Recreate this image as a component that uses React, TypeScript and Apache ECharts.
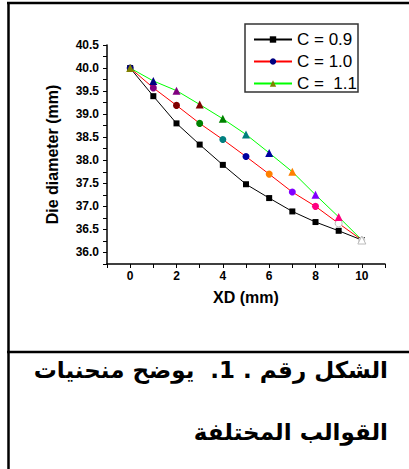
import React, { useEffect, useRef } from "react";
import * as echarts from "echarts";

const xd = [0, 1, 2, 3, 4, 5, 6, 7, 8, 9, 10];
const c09 = [40.0, 39.39, 38.8, 38.34, 37.9, 37.48, 37.18, 36.89, 36.66, 36.47, 36.27];
const c10 = [40.0, 39.57, 39.19, 38.8, 38.45, 38.08, 37.7, 37.31, 37.0, 36.63, 36.27];
const c11 = [40.0, 39.72, 39.51, 39.21, 38.9, 38.56, 38.16, 37.75, 37.25, 36.77, 36.27];
const seriesNames = ["C = 0.9", "C = 1.0", "C =  1.1"];
const c10PointColors = ["#000080", "#800080", "#800000", "#008000", "#008080", "#0000a0", "#ff8000", "#8000ff", "#ff0080", "#ffffff", "#d8d8d8"];
const c11PointColors = ["#808000", "#000080", "#800080", "#800000", "#008000", "#008080", "#0000a0", "#ff8000", "#8000ff", "#ff0080", "#ffffff"];
const yAxisTitle = "Die diameter (mm)";
const xAxisTitle = "XD (mm)";
const captionLine1 = "الشكل رقم . 1.  يوضح منحنيات";
const captionLine2 = "القوالب المختلفة";

const LATIN = "'Liberation Sans', Arial, sans-serif";
const ARABIC = "'DejaVu Sans', sans-serif";
const RLE = "\u202B";
const PDF = "\u202C";

function pts(vals: number[], colors?: string[]) {
  return xd.map((x, i) => {
    const c = colors ? colors[i] : "#000000";
    return {
      value: [x, vals[i]],
      itemStyle: {
        color: c,
        borderColor: c === "#ffffff" ? "#bbbbbb" : c,
        borderWidth: c === "#ffffff" ? 1 : 0,
      },
    };
  });
}

export default function App() {
  const ref = useRef<HTMLDivElement>(null);
  useEffect(() => {
    if (!ref.current) return;
    const chart = echarts.init(ref.current, undefined, { renderer: "svg" });
    const isHalf = (v: number) => Math.abs(v * 2 - Math.round(v * 2)) < 1e-6;
    chart.setOption({
      animation: false,
      backgroundColor: "#ffffff",
      grid: { left: 107, top: 45, width: 278, height: 219, containLabel: false },
      xAxis: {
        type: "value",
        min: -1,
        max: 11,
        interval: 1,
        name: xAxisTitle,
        nameLocation: "middle",
        nameGap: 25,
        nameTextStyle: { fontFamily: LATIN, fontWeight: "bold", fontSize: 16, color: "#000" },
        axisLine: { onZero: false, lineStyle: { color: "#000", width: 1.5 } },
        axisTick: { show: true, inside: false, length: 4, lineStyle: { color: "#000", width: 1 } },
        splitLine: { show: false },
        axisLabel: {
          interval: 0,
          margin: 6,
          fontFamily: LATIN,
          fontWeight: "bold",
          fontSize: 12,
          color: "#000",
          formatter: (v: number) => (v >= 0 && v <= 10 && Math.round(v) % 2 === 0 ? String(Math.round(v)) : ""),
        },
      },
      yAxis: {
        type: "value",
        min: 35.75,
        max: 40.5,
        interval: 0.25,
        name: yAxisTitle,
        nameLocation: "middle",
        nameGap: 47,
        nameRotate: 90,
        nameTextStyle: { fontFamily: LATIN, fontWeight: "bold", fontSize: 16, color: "#000" },
        axisLine: { show: true, onZero: false, lineStyle: { color: "#000", width: 1.5 } },
        axisTick: { show: true, inside: false, length: 4, lineStyle: { color: "#000", width: 1 } },
        splitLine: { show: false },
        axisLabel: {
          interval: 0,
          margin: 8,
          fontFamily: LATIN,
          fontWeight: "bold",
          fontSize: 12,
          color: "#000",
          formatter: (v: number) => (v >= 35.99 && isHalf(v) ? v.toFixed(1) : ""),
        },
      },
      legend: {
        orient: "vertical",
        left: 253,
        top: 31,
        padding: 0,
        itemWidth: 38,
        itemHeight: 8,
        itemGap: 5,
        textStyle: { fontFamily: LATIN, fontSize: 17, color: "#000" },
        data: seriesNames,
        z: 10,
      },
      series: [
        {
          name: seriesNames[0],
          type: "line",
          symbol: "rect",
          symbolSize: 6,
          lineStyle: { color: "#000000", width: 1 },
          itemStyle: { color: "#000000" },
          data: pts(c09),
        },
        {
          name: seriesNames[1],
          type: "line",
          symbol: "circle",
          symbolSize: 7,
          lineStyle: { color: "#ff0000", width: 1 },
          itemStyle: { color: "#000080" },
          data: pts(c10, c10PointColors),
        },
        {
          name: seriesNames[2],
          type: "line",
          symbol: "triangle",
          symbolSize: 8,
          lineStyle: { color: "#00ff00", width: 1 },
          itemStyle: { color: "#808000" },
          data: pts(c11, c11PointColors),
        },
      ],
      graphic: [
        { type: "line", shape: { x1: 8.5, y1: 2, x2: 8.5, y2: 469 }, style: { stroke: "#000", lineWidth: 2.5 } },
        { type: "line", shape: { x1: 7, y1: 3, x2: 409, y2: 3 }, style: { stroke: "#000", lineWidth: 2.5 } },
        { type: "line", shape: { x1: 7, y1: 352, x2: 409, y2: 352 }, style: { stroke: "#000", lineWidth: 2.5 } },
        {
          type: "rect",
          z: 5,
          shape: { x: 245, y: 24, width: 113, height: 68 },
          style: { fill: "#ffffff", stroke: "#333", lineWidth: 1.5 },
        },
        {
          type: "text",
          x: 388,
          y: 370,
          style: {
            text: RLE + captionLine1 + PDF,
            align: "right",
            verticalAlign: "middle",
            fontFamily: ARABIC,
            fontWeight: "bold",
            fontSize: 23,
            fill: "#000",
          },
        },
        {
          type: "text",
          x: 388,
          y: 432,
          style: {
            text: captionLine2,
            align: "right",
            verticalAlign: "middle",
            fontFamily: ARABIC,
            fontWeight: "bold",
            fontSize: 23,
            fill: "#000",
          },
        },
      ],
    });
    return () => chart.dispose();
  }, []);
  return <div ref={ref} style={{ position: "absolute", left: 0, top: 0, width: 409, height: 469 }} />;
}
